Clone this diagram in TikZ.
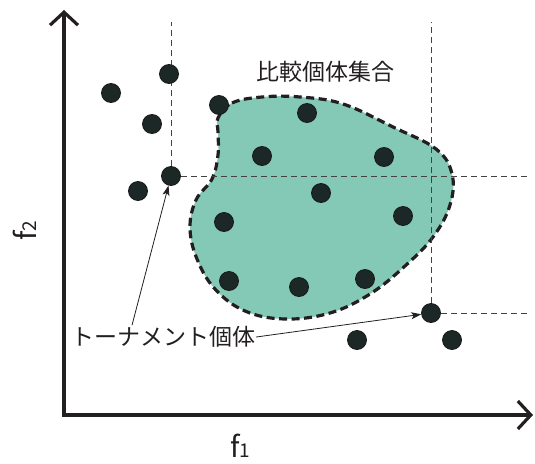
\documentclass[tikz,border=0pt]{standalone}
\usepackage{fontspec}
\newfontfamily\jpfont{Noto Sans CJK JP}
\usepackage{tikz}
\usetikzlibrary{arrows.meta,calc}
\usepackage{xcolor}
\definecolor{blobfill}{RGB}{132,201,182}
\definecolor{dotcol}{RGB}{27,40,37}
\definecolor{inkcol}{RGB}{35,31,32}

\begin{document}
\begin{tikzpicture}[x=1pt, y=-1pt,
  axis/.style={draw=inkcol, line width=3.2pt, -{Straight Barb[length=13pt, width=28pt, line width=3.2pt]}},
  pt/.style={circle, fill=dotcol, draw=black!90, line width=0.8pt, minimum size=19pt, inner sep=0pt},
  guide/.style={draw=inkcol!85, line width=0.8pt, dash pattern=on 6pt off 4pt},
  region/.style={fill=blobfill, draw=inkcol, line width=3.2pt, dash pattern=on 8pt off 4.5pt},
  lbl/.style={font=\jpfont\fontsize{23}{26}\selectfont, text=inkcol, inner sep=1pt},
  axlbl/.style={font=\jpfont\fontsize{29}{32}\selectfont, text=inkcol, inner sep=0pt},
  pointer/.style={draw=inkcol, line width=0.8pt, -{Stealth[length=10pt, width=7pt, inset=2.5pt]}}
]
  \useasboundingbox (0,0) rectangle (535,463);

  % comparison set
  \path[region] plot[smooth cycle, tension=0.65] coordinates {
    (218,118) (232,103) (262,97) (300,97) (343,104) (393,127) (436,149)
    (452,174) (450,205) (433,237) (405,266) (370,294) (330,313) (285,319)
    (245,311) (215,289) (197,259) (190,228) (196,200) (212,179) (218,155) (218,132)};

  % tournament individuals
  \coordinate (t1) at (171,176);
  \coordinate (t2) at (431,313);
  \draw[guide] (t1) -- (t1 |- 0,22);
  \draw[guide] (t1) -- (t1 -| 527,0);
  \draw[guide] (t2) -- (t2 |- 0,22);
  \draw[guide] (t2) -- (t2 -| 527,0);

  % axes
  \coordinate (O) at (64,415);
  \coordinate (ytop) at (64,10);
  \coordinate (xend) at (533,415);
  \draw[axis] ($(O)+(0,1.6)$) -- (ytop);
  \draw[axis] ($(O)-(1.6,0)$) -- (xend);

  \foreach \x/\y/\n in {169/74/p1, 111/93/p2, 152/124/p3, 219/105/p4, 307/113/p5,
      262/156/p6, 384/157/p7, 138/191/p8, 321/193/p9, 224/222/p10, 403/216/p11,
      229/281/p12, 299/287/p13, 365/279/p14, 357/340/p15, 452/340/p16}
    \node[pt] (\n) at (\x,\y) {};
  \node[pt] (tp1) at (t1) {};
  \node[pt] (tp2) at (t2) {};

  \node[lbl] (setlbl) at (325,72) {比較個体集合};
  \node[lbl] (tlbl) at (163,337) {トーナメント個体};
  \node[axlbl, rotate=90] (ylab) at (25,231) {f\fontsize{19}{19}\selectfont 2};
  \node[axlbl] (xlab) at (240,446) {f\fontsize{19}{19}\selectfont 1};

  \draw[pointer] ([xshift=-31pt]tlbl.north) -- (tp1);
  \draw[pointer] (tlbl.east) -- (tp2);
\end{tikzpicture}
\end{document}
